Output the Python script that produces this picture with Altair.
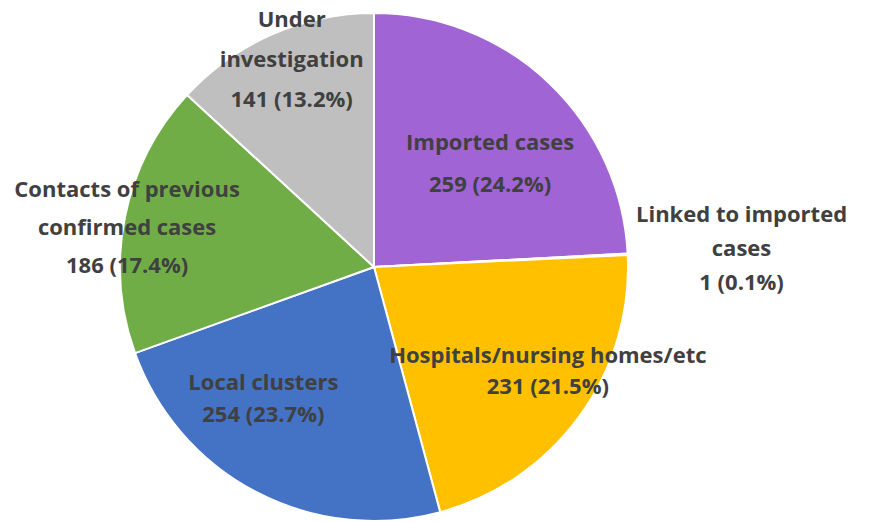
import altair as alt
import pandas as pd

categories = ["Imported cases", "Linked to imported cases", "Hospitals/nursing homes/etc",
              "Local clusters", "Contacts of previous confirmed cases", "Under investigation"]
counts = [259, 1, 231, 254, 186, 141]
percents = ["24.2%", "0.1%", "21.5%", "23.7%", "17.4%", "13.2%"]
label_lines = [
    ["Imported cases"],
    ["Linked to imported", "cases"],
    ["Hospitals/nursing homes/etc"],
    ["Local clusters"],
    ["Contacts of previous", "confirmed cases"],
    ["Under", "investigation"],
]
colors = ["#A064D4", "#B8BCC8", "#FFC000", "#4472C4", "#70AD47", "#BFBFBF"]

df = pd.DataFrame({
    "category": categories,
    "count": counts,
    "pct": percents,
    "idx": list(range(len(categories))),
})
df["label"] = ["\n".join(l + [f"{c}  ({p})"]) for l, c, p in zip(label_lines, counts, percents)]

CX, CY, R = 374, 267, 254

base = alt.Chart(df)

pie = base.mark_arc(outerRadius=R, stroke="white", strokeWidth=2).encode(
    theta=alt.Theta("count:Q", stack=True),
    order=alt.Order("idx:Q"),
    color=alt.Color("category:N", scale=alt.Scale(domain=categories, range=colors), legend=None),
    x=alt.value(CX),
    y=alt.value(CY),
)

# label layout: (radius, angular tweak in degrees, line height)
layout = {
    "Imported cases": (155, 5, 42),
    "Linked to imported cases": (368, 0, 34),
    "Hospitals/nursing homes/etc": (203, -5, 31),
    "Local clusters": (172, 12.5, 32),
    "Contacts of previous confirmed cases": (250, -2.4, 38),
    "Under investigation": (223, 2, 40),
}

layers = [pie]
for cat, lines in zip(categories, label_lines):
    r, dth, lh = layout[cat]
    n = len(lines) + 1
    t = base.transform_joinaggregate(total="sum(count)").transform_window(
        cum="sum(count)", sort=[alt.SortField("idx")], frame=[None, 0]
    ).transform_calculate(
        mid=f"(datum.cum - datum.count/2)/datum.total*2*PI + {dth}*PI/180"
    ).transform_filter(
        alt.datum.category == cat
    ).mark_text(
        radius=r, font="Open Sans", fontWeight="bold", fontSize=22, color="#404040",
        lineBreak="\n", lineHeight=lh, align="center", baseline="middle",
        dy=-(n - 1) * lh / 2,
    ).encode(
        theta=alt.Theta("mid:Q", scale=None),
        text="label:N",
        x=alt.value(CX),
        y=alt.value(CY),
    )
    layers.append(t)

chart = alt.layer(*layers).properties(
    width=874, height=522, padding=0, autosize=alt.AutoSizeParams(type="none"),
    background="white",
).configure_view(stroke=None)

chart.save("out.html", embed_options={"renderer": "svg", "actions": False})
